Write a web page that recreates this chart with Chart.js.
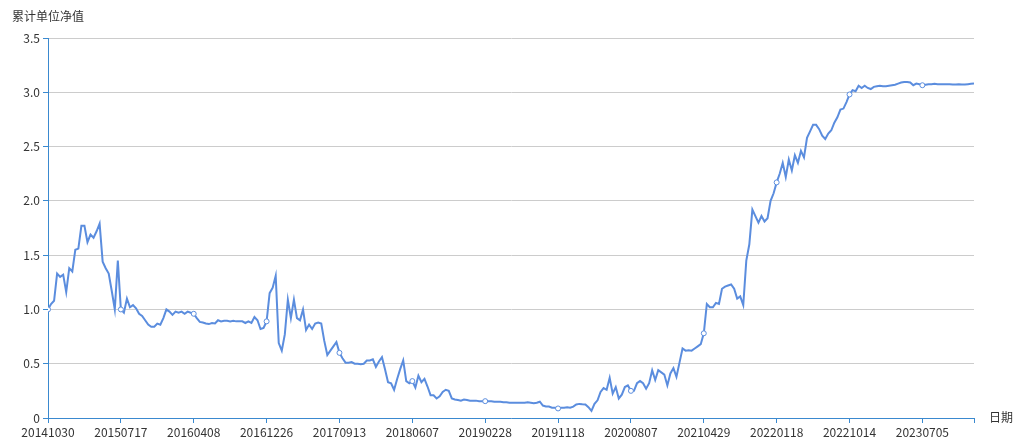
<!DOCTYPE html>
<html>
<head>
<meta charset="utf-8">
<script src="https://cdn.jsdelivr.net/npm/chart.js@4.4.1/dist/chart.umd.min.js"></script>
<style>
  html, body { margin: 0; padding: 0; background: #ffffff; }
  #wrap { position: relative; width: 1017px; height: 440px; }
</style>
</head>
<body>
<div id="wrap"><canvas id="c" width="1017" height="440"></canvas></div>
<script>
// Tick labels shown on the category (date) axis, one every 24 samples
const tickLabels = ['20141030','20150717','20160408','20161226','20170913','20180607','20190228','20191118','20200807','20210429','20220118','20221014','20230705'];
const labelEvery = 24;
const yAxisName = '累计单位净值';
const xAxisName = '日期';

// Cumulative unit NAV
const navValues = [
  1.00, 1.05, 1.08, 1.33, 1.30, 1.32, 1.16, 1.38, 1.35, 1.55,
  1.56, 1.77, 1.77, 1.62, 1.69, 1.66, 1.72, 1.79, 1.44, 1.38,
  1.33, 1.17, 1.00, 1.45, 1.00, 0.97, 1.10, 1.02, 1.04, 1.01,
  0.96, 0.94, 0.90, 0.86, 0.84, 0.84, 0.87, 0.86, 0.92, 1.00,
  0.98, 0.95, 0.98, 0.97, 0.98, 0.96, 0.98, 0.97, 0.96, 0.92,
  0.885, 0.88, 0.87, 0.865, 0.875, 0.87, 0.90, 0.89, 0.895, 0.895,
  0.89, 0.895, 0.89, 0.89, 0.89, 0.875, 0.89, 0.875, 0.93, 0.90,
  0.82, 0.83, 0.89, 1.15, 1.20, 1.31, 0.69, 0.62, 0.77, 1.09,
  0.92, 1.09, 0.92, 0.90, 1.00, 0.81, 0.86, 0.82, 0.87, 0.88,
  0.87, 0.71, 0.58, 0.62, 0.66, 0.70, 0.60, 0.55, 0.51, 0.51,
  0.515, 0.50, 0.50, 0.495, 0.50, 0.53, 0.53, 0.54, 0.47, 0.52,
  0.56, 0.45, 0.33, 0.32, 0.26, 0.36, 0.45, 0.53, 0.34, 0.32,
  0.34, 0.28, 0.39, 0.33, 0.36, 0.29, 0.21, 0.21, 0.18, 0.20,
  0.24, 0.26, 0.25, 0.18, 0.17, 0.165, 0.16, 0.17, 0.165, 0.16,
  0.16, 0.16, 0.155, 0.155, 0.155, 0.155, 0.155, 0.15, 0.15, 0.15,
  0.145, 0.145, 0.14, 0.14, 0.14, 0.14, 0.14, 0.14, 0.145, 0.14,
  0.135, 0.14, 0.15, 0.115, 0.107, 0.106, 0.095, 0.095, 0.088, 0.095,
  0.095, 0.10, 0.095, 0.105, 0.125, 0.13, 0.127, 0.125, 0.10, 0.065,
  0.13, 0.163, 0.24, 0.275, 0.26, 0.37, 0.225, 0.285, 0.18, 0.215,
  0.285, 0.30, 0.25, 0.25, 0.32, 0.34, 0.32, 0.27, 0.32, 0.44,
  0.35, 0.44, 0.42, 0.40, 0.30, 0.41, 0.46, 0.38, 0.51, 0.64,
  0.62, 0.625, 0.62, 0.64, 0.66, 0.68, 0.78, 1.05, 1.02, 1.02,
  1.06, 1.05, 1.19, 1.21, 1.22, 1.23, 1.19, 1.10, 1.12, 1.04,
  1.45, 1.60, 1.92, 1.86, 1.80, 1.86, 1.81, 1.84, 2.00, 2.07,
  2.17, 2.25, 2.35, 2.22, 2.38, 2.28, 2.42, 2.35, 2.46, 2.40,
  2.58, 2.64, 2.70, 2.70, 2.66, 2.60, 2.57, 2.62, 2.65, 2.72,
  2.77, 2.84, 2.85, 2.91, 2.98, 3.02, 3.01, 3.06, 3.04, 3.06,
  3.04, 3.03, 3.05, 3.055, 3.06, 3.055, 3.055, 3.06, 3.065, 3.07,
  3.08, 3.09, 3.095, 3.095, 3.09, 3.065, 3.08, 3.075, 3.065, 3.07,
  3.075, 3.075, 3.078, 3.075, 3.075, 3.075, 3.075, 3.075, 3.072, 3.072,
  3.075, 3.072, 3.072, 3.075, 3.078, 3.08
];

const lineColor = '#5b8dde';
const axisColor = '#3a89cf';
const gridColor = '#cccccc';
const textColor = '#333333';
const fontFamily = '"Microsoft YaHei", "Noto Sans CJK SC", "Noto Sans", sans-serif';

const points = navValues.map((v, i) => ({ x: i, y: v }));
const lastIndex = navValues.length - 1;

const axisNames = {
  id: 'axisNames',
  afterDraw(chart) {
    const ctx = chart.ctx;
    ctx.save();
    ctx.font = '12px ' + fontFamily;
    ctx.fillStyle = textColor;
    ctx.textBaseline = 'middle';
    ctx.textAlign = 'left';
    ctx.fillText(yAxisName, 12, 16);
    ctx.fillText(xAxisName, chart.chartArea.right + 15, chart.chartArea.bottom - 1);
    ctx.restore();
  }
};

new Chart(document.getElementById('c'), {
  type: 'line',
  data: {
    datasets: [{
      data: points,
      borderColor: lineColor,
      borderWidth: 2,
      tension: 0,
      fill: false,
      pointRadius: ctx => (ctx.dataIndex % labelEvery === 0 ? 2.5 : 0),
      pointBackgroundColor: '#ffffff',
      pointBorderColor: lineColor,
      pointBorderWidth: 1,
      pointHoverRadius: 0
    }]
  },
  options: {
    responsive: false,
    animation: false,
    events: [],
    layout: { padding: { top: 38, right: 43, bottom: 0, left: 0 } },
    plugins: { legend: { display: false }, tooltip: { enabled: false } },
    scales: {
      x: {
        type: 'linear',
        min: 0,
        max: lastIndex,
        afterFit: s => { s.height = 22; },
        border: { display: true, color: axisColor, width: 1 },
        grid: { drawOnChartArea: false, drawTicks: true, tickLength: 5, tickColor: axisColor, color: axisColor },
        ticks: {
          stepSize: labelEvery,
          autoSkip: false,
          maxRotation: 0,
          padding: 2,
          color: textColor,
          font: { size: 12, family: fontFamily },
          callback: v => (v % labelEvery === 0 && tickLabels[v / labelEvery] !== undefined) ? tickLabels[v / labelEvery] : ''
        }
      },
      y: {
        min: 0,
        max: 3.5,
        afterFit: s => { s.width = 48; },
        border: { display: true, color: axisColor, width: 1 },
        grid: { color: gridColor, drawTicks: true, tickLength: 5, tickColor: axisColor },
        ticks: {
          stepSize: 0.5,
          padding: 3,
          color: textColor,
          font: { size: 12, family: fontFamily }
        }
      }
    }
  },
  plugins: [axisNames]
});
</script>
</body>
</html>
